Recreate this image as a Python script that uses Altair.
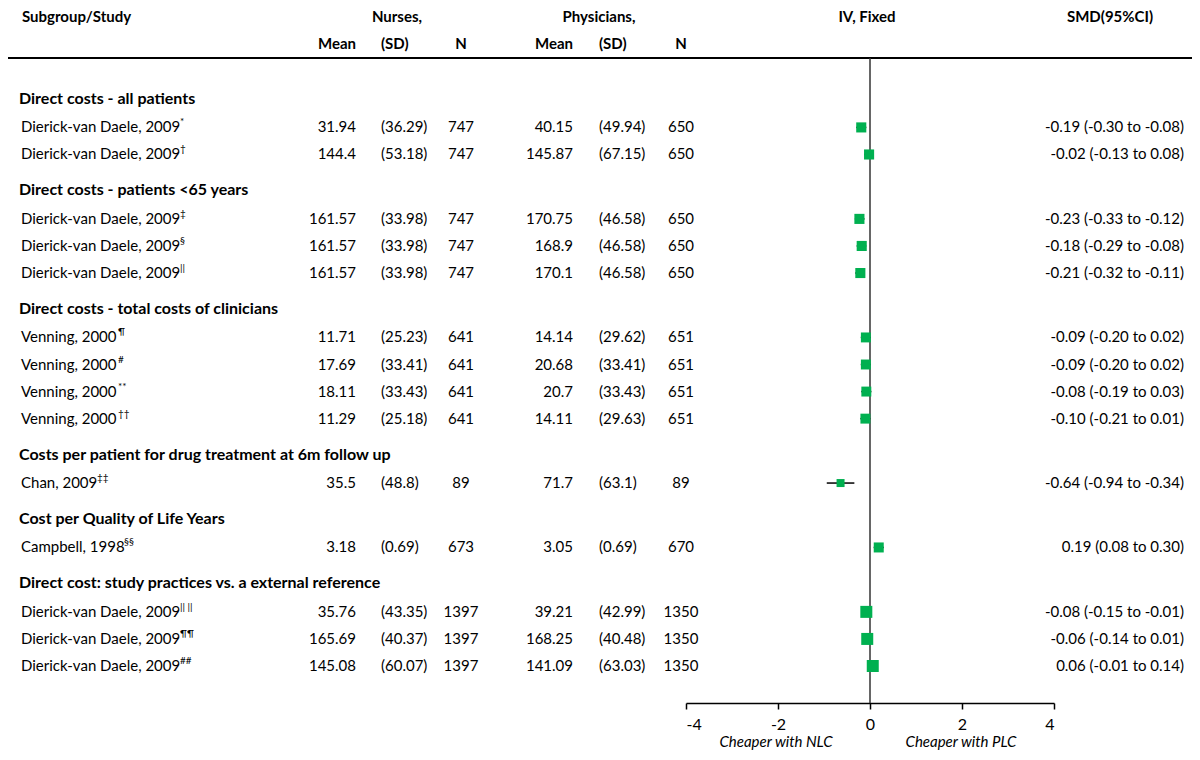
import altair as alt
import pandas as pd

# ---------------- data ----------------
subgroups = [
    "Direct costs - all patients",
    "Direct costs - patients <65 years",
    "Direct costs - total costs of clinicians",
    "Costs per patient for drug treatment at 6m follow up",
    "Cost per Quality of Life Years",
    "Direct cost: study practices vs. a external reference",
]
study_group = [0, 0, 1, 1, 1, 2, 2, 2, 2, 3, 4, 5, 5, 5]
study_name = (["Dierick-van Daele, 2009"] * 5 + ["Venning, 2000"] * 4
              + ["Chan, 2009", "Campbell, 1998"] + ["Dierick-van Daele, 2009"] * 3)
study_mark = ["*", "†", "‡", "§", "||", "¶", "#", "**", "††", "‡‡", "§§", "|| ||", "¶¶", "##"]
nurse_mean = ["31.94", "144.4", "161.57", "161.57", "161.57", "11.71", "17.69", "18.11", "11.29",
              "35.5", "3.18", "35.76", "165.69", "145.08"]
nurse_sd = ["36.29", "53.18", "33.98", "33.98", "33.98", "25.23", "33.41", "33.43", "25.18",
            "48.8", "0.69", "43.35", "40.37", "60.07"]
nurse_n = [747, 747, 747, 747, 747, 641, 641, 641, 641, 89, 673, 1397, 1397, 1397]
phys_mean = ["40.15", "145.87", "170.75", "168.9", "170.1", "14.14", "20.68", "20.7", "14.11",
             "71.7", "3.05", "39.21", "168.25", "141.09"]
phys_sd = ["49.94", "67.15", "46.58", "46.58", "46.58", "29.62", "33.41", "33.43", "29.63",
           "63.1", "0.69", "42.99", "40.48", "63.03"]
phys_n = [650, 650, 650, 650, 650, 651, 651, 651, 651, 89, 670, 1350, 1350, 1350]
smd = [-0.19, -0.02, -0.23, -0.18, -0.21, -0.09, -0.09, -0.08, -0.10, -0.64, 0.19, -0.08, -0.06, 0.06]
ci_lo = [-0.30, -0.13, -0.33, -0.29, -0.32, -0.20, -0.20, -0.19, -0.21, -0.94, 0.08, -0.15, -0.14, -0.01]
ci_hi = [-0.08, 0.08, -0.12, -0.08, -0.11, 0.02, 0.02, 0.03, 0.01, -0.34, 0.30, -0.01, 0.01, 0.14]
x_ticks = [-4, -2, 0, 2, 4]

# ---------------- layout ----------------
FONT = "Lato"
FS = 15
W, H = 1184, 687
PAD = {"left": 0, "top": 8, "right": 0, "bottom": 49}

rows_y, head_y = [], []
pos, prev = 0.0, None
for g in study_group:
    if g != prev:
        if prev is not None:
            pos += 1.33
        head_y.append(pos)
        pos += 1.05
    else:
        pos += 1.0
    rows_y.append(pos)
    prev = g

yscale = alt.Scale(domain=[0, pos], range=[83, 650])
xscale = alt.Scale(domain=[-4, 4], range=[678, 1046])

df = pd.DataFrame({
    "name": study_name, "mark": study_mark,
    "nm": nurse_mean, "nsd": ["(" + s + ")" for s in nurse_sd], "nn": [str(v) for v in nurse_n],
    "pm": phys_mean, "psd": ["(" + s + ")" for s in phys_sd], "pn": [str(v) for v in phys_n],
    "smd": smd, "lo": ci_lo, "hi": ci_hi, "y": rows_y,
    "tot": [a + b for a, b in zip(nurse_n, phys_n)],
})
df["label"] = [f"{s:.2f} ({l:.2f} to {h:.2f})" for s, l, h in zip(smd, ci_lo, ci_hi)]
heads = pd.DataFrame({"t": subgroups, "y": head_y})

Y = alt.Y("y:Q", scale=yscale, axis=None)


def col(field, x, align):
    return alt.Chart(df).mark_text(align=align, baseline="middle", font=FONT, fontSize=FS,
                                   color="black").encode(x=alt.value(x), y=Y, text=f"{field}:N")


def label(t, x, y, align="center", bold=True, italic=False, size=FS):
    kw = dict(align=align, baseline="middle", font=FONT, fontSize=size, color="black",
              fontWeight="bold" if bold else "normal")
    if italic:
        kw["fontStyle"] = "italic"
    return alt.Chart(alt.Data(values=[{"t": t}])).mark_text(**kw).encode(
        x=alt.value(x), y=alt.value(y), text="t:N")


sup_x = {"Dierick-van Daele, 2009": 172, "Venning, 2000": 110, "Chan, 2009": 89, "Campbell, 1998": 116}

layers = []
# header
HY = 1
layers += [
    label("Subgroup/Study", 14, HY, align="left"),
    label("Nurses,", 389, HY),
    label("Physicians,", 591, HY),
    label("IV, Fixed", 859, HY),
    label("SMD(95%CI)", 1102, HY),
    label("Mean", 348, 28, align="right"),
    label("(SD)", 373, 28, align="left"),
    label("N", 453, 28),
    label("Mean", 565, 28, align="right"),
    label("(SD)", 591, 28, align="left"),
    label("N", 673, 28),
]
layers.append(alt.Chart(alt.Data(values=[{"a": 1}])).mark_rule(color="black", strokeWidth=2).encode(
    x=alt.value(0), x2=alt.value(W), y=alt.value(42)))

# subgroup headings
layers.append(alt.Chart(heads).mark_text(align="left", baseline="middle", font=FONT, fontSize=16,
                                         fontWeight="bold", color="black").encode(
    x=alt.value(11), y=Y, text="t:N"))

# study names and superscripts
layers.append(col("name", 13, "left"))
for nm, sx in sup_x.items():
    layers.append(alt.Chart(df).transform_filter(alt.datum.name == nm).mark_text(
        align="left", baseline="middle", font=FONT, fontSize=10, dy=-5, color="black").encode(
        x=alt.value(sx), y=Y, text="mark:N"))

layers += [
    col("nm", 348, "right"), col("nsd", 373, "left"), col("nn", 453, "center"),
    col("pm", 565, "right"), col("psd", 591, "left"), col("pn", 673, "center"),
    col("label", 1176, "right"),
]

# forest
axis = alt.Axis(values=x_ticks, title=None, grid=False, domainColor="black", domainWidth=1.5,
                tickColor="black", tickWidth=1.5, tickSize=6, labelFont=FONT, labelFontSize=16,
                labelColor="black", labelPadding=7, labelExpr="toString(datum.value)")
layers.append(alt.Chart(df).mark_rule(color="black", strokeWidth=1.5).encode(
    x=alt.X("lo:Q", scale=xscale, axis=axis), x2="hi:Q", y=Y))
layers.append(alt.Chart(alt.Data(values=[{"a": 1}])).mark_rule(color="#333333", strokeWidth=1.5).encode(
    x=alt.X(datum=0), y=alt.value(42), y2=alt.value(H)))
layers.append(alt.Chart(df).mark_square(color="#00B050", opacity=1, strokeWidth=0).encode(
    x="smd:Q", y=Y,
    size=alt.Size("tot:Q", scale=alt.Scale(domain=[178, 2747], range=[64, 144]), legend=None)))

layers += [
    label("Cheaper with NLC", 768, 726, bold=False, italic=True, size=15),
    label("Cheaper with PLC", 953, 726, bold=False, italic=True, size=15),
]

chart = alt.layer(*layers).properties(
    width=W, height=H, padding=PAD, autosize=alt.AutoSizeParams(type="none")
).configure_view(stroke=None)

chart.save("out.html", embed_options={"renderer": "svg", "actions": False})
